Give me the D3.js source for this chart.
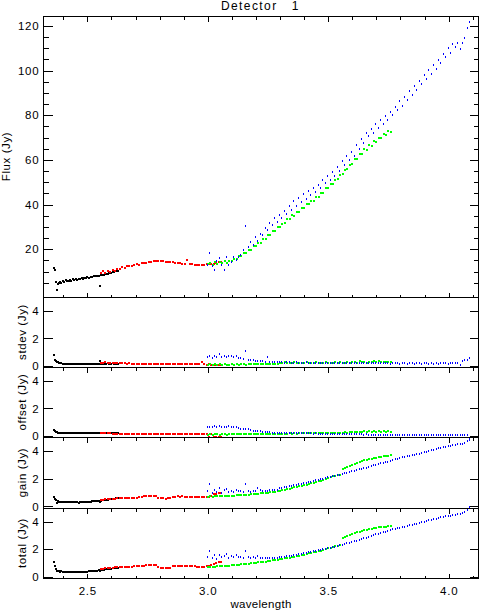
<!DOCTYPE html>
<html><head><meta charset="utf-8">
<script src="https://cdn.jsdelivr.net/npm/d3@7"></script>
<style>
body{margin:0;background:#fff;}
svg text{font-family:"Liberation Sans",Arial,sans-serif;fill:#000;}
</style>
</head><body>
<svg id="chart" width="479" height="612"></svg>
<script>
// ---------------- DATA ----------------
const titleText = "Detector   1";
const xLabel = "wavelength";
const xMajorTicks = [2.5, 3.0, 3.5, 4.0];
const xMinorTicks = [2.4, 2.6, 2.7, 2.8, 2.9, 3.1, 3.2, 3.3, 3.4, 3.6, 3.7, 3.8, 3.9, 4.1];
const fluxTicks = [20, 40, 60, 80, 100, 120];
const fluxMinorTicks = [5, 10, 15, 25, 30, 35, 45, 50, 55, 65, 70, 75, 85, 90, 95, 105, 110, 115];
const smallTicks = [0, 2, 4];
const panelLabels = ["Flux (Jy)", "stdev (Jy)", "offset (Jy)", "gain (Jy)", "total (Jy)"];

// black segment
const blackWl = [2.362,2.364,2.368,2.372,2.377,2.382,2.387,2.392,2.398,2.404,
  2.410,2.416,2.422,2.428,2.434,2.440,2.446,2.452,2.458,2.464,
  2.470,2.476,2.482,2.488,2.494,2.500,2.507,2.514,2.521,2.528,
  2.535,2.542,2.549,2.553,2.558,2.564,2.570,2.577,2.584,2.591,
  2.598,2.605,2.612,2.619,2.626];
const blackFlux = [11.8,10.8,5.3,1.8,4.6,4.9,5.4,5.1,5.6,5.5,
  6.1,5.7,6.0,6.3,5.9,6.5,6.2,6.6,6.4,6.9,
  6.7,7.0,6.9,7.2,7.1,7.4,7.3,7.6,7.8,8.0,
  8.0,8.1,8.1,3.6,8.3,8.5,8.6,9.0,9.1,9.3,
  9.5,9.7,9.9,10.1,10.3];
const blackStdev = [0.80,0.40,0.33,0.28,0.25,0.22,0.20,0.18,0.17,0.16,
  0.15,0.15,0.14,0.16,0.14,0.15,0.13,0.14,0.16,0.14,
  0.13,0.14,0.13,0.14,0.15,0.13,0.14,0.16,0.14,0.15,
  0.14,0.16,0.15,0.37,0.16,0.15,0.17,0.16,0.18,0.17,
  0.16,0.18,0.17,0.16,0.17];
const blackOffset = [0.45,0.38,0.30,0.26,0.24,0.22,0.21,0.20,0.20,0.19,
  0.20,0.19,0.20,0.19,0.19,0.20,0.19,0.20,0.19,0.19,
  0.20,0.19,0.19,0.20,0.19,0.20,0.19,0.19,0.20,0.19,
  0.20,0.19,0.19,0.22,0.19,0.20,0.19,0.20,0.19,0.20,
  0.19,0.19,0.20,0.19,0.19];
const blackGain = [0.70,0.55,0.45,0.25,0.35,0.32,0.30,0.33,0.30,0.31,
  0.29,0.32,0.30,0.31,0.29,0.30,0.28,0.30,0.29,0.27,
  0.29,0.28,0.30,0.29,0.31,0.30,0.33,0.32,0.35,0.37,
  0.36,0.38,0.40,0.30,0.42,0.44,0.45,0.47,0.49,0.50,
  0.52,0.55,0.56,0.58,0.60];
const blackTotal = [1.10,0.75,0.55,0.44,0.40,0.38,0.36,0.38,0.35,0.37,
  0.34,0.36,0.35,0.37,0.34,0.35,0.33,0.35,0.34,0.33,
  0.35,0.34,0.36,0.35,0.37,0.36,0.38,0.39,0.41,0.43,
  0.42,0.44,0.46,0.40,0.48,0.50,0.51,0.53,0.55,0.56,
  0.58,0.61,0.62,0.64,0.66];

// red segment
const redWl = [2.555,2.565,2.575,2.585,2.595,2.605,2.615,2.625,2.635,2.645,
  2.655,2.665,2.675,2.685,2.695,2.705,2.715,2.725,2.735,2.745,
  2.755,2.765,2.775,2.785,2.795,2.805,2.815,2.825,2.835,2.845,
  2.855,2.865,2.875,2.885,2.895,2.905,2.915,2.925,2.935,2.945,
  2.955,2.965,2.975,2.985,2.995,3.005,3.015,3.025,3.035,3.045,3.055];
const redFlux = [9.2,10.1,9.6,10.4,10.0,10.7,10.5,11.4,11.1,12.0,
  11.8,12.4,12.7,12.6,13.0,13.3,13.2,13.7,13.8,14.0,
  14.3,14.2,14.6,14.8,14.9,14.7,14.8,14.5,14.4,14.3,
  14.2,13.9,13.8,13.7,13.6,13.5,15.2,13.5,13.3,13.2,
  13.0,13.1,13.0,13.2,13.3,13.4,13.6,13.5,14.0,14.2,14.4];
const redStdev = [0.24,0.22,0.25,0.21,0.23,0.22,0.20,0.22,0.21,0.19,
  0.18,0.17,0.18,0.16,0.17,0.16,0.15,0.16,0.15,0.14,
  0.15,0.14,0.15,0.14,0.13,0.14,0.13,0.14,0.13,0.12,
  0.13,0.12,0.13,0.12,0.12,0.11,0.12,0.11,0.12,0.11,
  0.12,0.11,0.30,0.11,0.10,0.11,0.06,0.05,0.06,0.05,0.06];
const redOffset = [0.20,0.19,0.21,0.18,0.20,0.17,0.16,0.17,0.15,0.14,
  0.15,0.14,0.13,0.14,0.13,0.14,0.13,0.13,0.14,0.13,
  0.13,0.12,0.13,0.12,0.13,0.12,0.12,0.13,0.12,0.12,
  0.12,0.13,0.12,0.12,0.12,0.11,0.12,0.12,0.11,0.12,
  0.11,0.12,0.11,0.12,0.11,-0.08,0.11,-0.09,-0.08,-0.09,-0.08];
const redGain = [0.46,0.48,0.50,0.50,0.53,0.55,0.56,0.58,0.58,0.59,
  0.60,0.60,0.61,0.62,0.63,0.63,0.66,0.70,0.71,0.72,
  0.73,0.74,0.75,0.75,0.60,0.58,0.57,0.56,0.57,0.58,
  0.69,0.70,0.71,0.70,0.71,0.70,0.69,0.70,0.69,0.68,
  0.66,0.65,0.66,0.65,0.67,0.70,0.75,0.87,0.90,0.95,0.97];
const redTotal = [0.56,0.58,0.60,0.61,0.64,0.66,0.67,0.69,0.69,0.70,
  0.71,0.72,0.73,0.73,0.74,0.75,0.77,0.80,0.81,0.82,
  0.83,0.84,0.85,0.85,0.68,0.66,0.65,0.64,0.65,0.66,
  0.77,0.78,0.78,0.77,0.78,0.77,0.76,0.77,0.76,0.75,
  0.73,0.72,0.73,0.72,0.74,0.76,0.82,0.95,0.98,1.04,1.06];

// green segment
const greenWl = [3.00,3.01,3.02,3.03,3.04,3.05,3.06,3.07,3.08,3.09,
  3.10,3.11,3.12,3.13,3.14,3.15,3.16,3.17,3.18,3.19,
  3.20,3.21,3.22,3.23,3.24,3.25,3.26,3.27,3.28,3.29,
  3.30,3.31,3.32,3.33,3.34,3.35,3.36,3.37,3.38,3.39,
  3.40,3.41,3.42,3.43,3.44,3.45,3.46,3.47,3.48,3.49,
  3.50,3.51,3.52,3.53,3.54,3.55,3.56,3.57,3.58,3.59,
  3.60,3.61,3.62,3.63,3.64,3.65,3.66,3.67,3.68,3.69,
  3.70,3.71,3.72,3.73,3.74,3.75,3.76];
const greenFlux = [13.3,13.9,13.2,14.1,13.5,14.4,13.8,14.7,14.0,14.9,
  14.6,15.7,15.5,16.9,16.8,18.4,18.4,19.9,19.9,21.4,
  21.5,23.0,23.0,24.6,24.6,26.2,26.3,28.0,28.1,29.9,
  29.9,31.5,31.6,33.4,33.4,35.2,35.1,36.9,36.8,38.5,
  38.6,40.3,40.2,41.8,41.7,43.5,43.4,45.2,45.4,47.3,
  47.3,49.1,49.2,51.1,51.3,53.3,53.6,55.6,55.8,57.9,
  58.0,60.2,60.3,62.5,62.6,64.7,64.6,66.6,66.4,68.3,
  68.1,70.0,69.7,71.5,71.1,72.8,72.6];
const greenStdev = [0.10,0.12,0.09,0.11,0.10,0.12,0.10,0.11,0.09,0.10,
  0.11,0.10,0.12,0.10,0.11,0.12,0.10,0.11,0.12,0.11,
  0.12,0.11,0.13,0.12,0.14,0.13,0.12,0.14,0.13,0.15,
  0.22,0.18,0.25,0.20,0.23,0.19,0.26,0.21,0.24,0.20,
  0.22,0.25,0.19,0.23,0.21,0.26,0.20,0.24,0.22,0.25,
  0.21,0.24,0.20,0.26,0.22,0.25,0.21,0.24,0.28,0.22,
  0.25,0.30,0.22,0.32,0.26,0.30,0.24,0.31,0.27,0.33,
  0.26,0.32,0.28,0.30,0.25,0.31,0.27];
const greenOffset = [0.10,0.11,0.10,0.12,0.11,0.10,0.11,0.12,0.10,0.11,
  0.12,0.11,0.12,0.13,0.12,0.13,0.12,0.13,0.14,0.13,
  0.14,0.13,0.15,0.14,0.15,0.14,0.16,0.15,0.16,0.15,
  0.16,0.17,0.16,0.17,0.18,0.17,0.18,0.17,0.18,0.19,
  0.18,0.19,0.18,0.20,0.19,0.20,0.19,0.20,0.21,0.20,
  0.21,0.20,0.22,0.21,0.22,0.24,0.23,0.25,0.24,0.26,
  0.28,0.30,0.27,0.31,0.29,0.32,0.30,0.33,0.31,0.32,
  0.30,0.33,0.31,0.32,0.30,0.33,0.31];
const greenGain = [0.70,0.71,0.70,0.72,0.73,0.72,0.74,0.75,0.74,0.76,
  0.77,0.78,0.79,0.80,0.82,0.81,0.83,0.85,0.86,0.88,
  0.90,0.92,0.93,0.95,0.97,0.99,1.02,1.04,1.06,1.09,
  1.12,1.16,1.20,1.24,1.28,1.32,1.36,1.40,1.44,1.48,
  1.52,1.56,1.61,1.65,1.70,1.75,1.80,1.86,1.92,1.98,
  2.04,2.10,2.16,2.21,2.25,2.29,2.72,2.80,2.86,2.93,
  3.00,3.08,3.14,3.20,3.26,3.31,3.36,3.40,3.44,3.48,
  3.51,3.55,3.58,3.61,3.63,3.66,3.68];
const greenTotal = [0.68,0.70,0.71,0.72,0.74,0.75,0.76,0.78,0.79,0.81,
  0.83,0.84,0.86,0.87,0.89,0.91,0.93,0.95,0.97,0.99,
  1.01,1.03,1.05,1.08,1.10,1.12,1.15,1.18,1.21,1.24,
  1.27,1.30,1.33,1.36,1.39,1.42,1.45,1.49,1.53,1.57,
  1.61,1.65,1.69,1.73,1.77,1.81,1.85,1.90,1.95,2.00,
  2.05,2.10,2.15,2.20,2.24,2.28,2.84,2.92,2.98,3.05,
  3.12,3.18,3.23,3.28,3.33,3.38,3.42,3.46,3.50,3.53,
  3.56,3.59,3.61,3.63,3.65,3.67,3.69];

// blue segment
const blueWl = [3.00,3.01,3.02,3.03,3.04,3.05,3.06,3.07,3.08,3.09,
  3.10,3.11,3.12,3.13,3.14,3.15,3.16,3.17,3.18,3.19,
  3.20,3.21,3.22,3.23,3.24,3.25,3.26,3.27,3.28,3.29,
  3.30,3.31,3.32,3.33,3.34,3.35,3.36,3.37,3.38,3.39,
  3.40,3.41,3.42,3.43,3.44,3.45,3.46,3.47,3.48,3.49,
  3.50,3.51,3.52,3.53,3.54,3.55,3.56,3.57,3.58,3.59,
  3.60,3.61,3.62,3.63,3.64,3.65,3.66,3.67,3.68,3.69,
  3.70,3.71,3.72,3.73,3.74,3.75,3.76,3.77,3.78,3.79,
  3.80,3.81,3.82,3.83,3.84,3.85,3.86,3.87,3.88,3.89,
  3.90,3.91,3.92,3.93,3.94,3.95,3.96,3.97,3.98,3.99,
  4.00,4.01,4.02,4.03,4.04,4.05,4.06,4.07,4.08,4.09];
const blueFlux = [13.2,18.2,12.5,10.7,14.6,16.0,13.1,10.7,16.7,13.0,
  14.2,16.5,15.0,16.7,17.5,19.8,30.4,21.0,23.2,21.8,
  25.6,23.6,26.9,26.4,29.5,28.6,31.6,30.9,33.9,32.4,
  35.3,33.9,37.3,35.9,39.4,37.8,41.5,39.6,42.9,41.3,
  44.6,42.5,46.1,44.2,47.5,45.6,48.9,47.4,51.0,49.6,
  52.9,50.8,54.4,52.9,56.7,55.0,59.3,57.6,61.9,60.0,
  63.6,61.9,66.8,65.0,69.3,67.5,72.0,70.6,73.9,72.0,
  75.9,74.2,77.8,76.0,79.8,78.0,81.5,80.0,83.9,82.5,
  86.3,84.3,88.3,86.7,90.8,89.1,93.0,91.4,95.4,94.0,
  97.8,96.0,100.1,98.4,102.4,100.8,104.9,103.3,107.6,106.0,
  110.3,108.0,111.9,110.6,112.4,109.8,112.3,114.5,119.0,121.5];
const blueStdev = [0.65,0.72,0.60,0.70,0.68,0.85,0.66,0.72,0.62,0.70,
  0.73,0.68,0.75,0.56,0.60,0.50,1.07,0.45,0.42,0.44,
  0.38,0.36,0.34,0.32,0.30,0.64,0.28,0.27,0.28,0.26,
  0.25,0.26,0.24,0.25,0.27,0.24,0.23,0.25,0.24,0.23,
  0.24,0.25,0.23,0.22,0.24,0.23,0.22,0.21,0.23,0.22,
  0.21,0.22,0.24,0.21,0.20,0.22,0.21,0.23,0.20,0.21,
  0.22,0.20,0.21,0.19,0.22,0.20,0.21,0.19,0.20,0.21,
  0.19,0.20,0.18,0.21,0.19,0.20,0.17,0.19,0.18,0.20,
  0.17,0.19,0.18,0.17,0.20,0.18,0.17,0.19,0.18,0.17,
  0.19,0.18,0.17,0.18,0.16,0.19,0.17,0.18,0.20,0.18,
  0.17,0.19,0.20,0.18,0.21,0.07,0.33,0.40,0.42,0.56];
const blueOffset = [0.62,0.68,0.64,0.70,0.66,0.69,0.63,0.68,0.65,0.70,
  0.66,0.68,0.64,0.58,0.52,0.50,0.52,0.48,0.42,0.38,
  0.36,0.34,0.32,0.30,0.28,0.26,0.25,0.24,0.23,0.22,
  0.21,0.22,0.21,0.20,0.21,0.20,0.19,0.20,0.19,0.18,
  0.19,0.18,0.19,0.18,0.17,0.18,0.17,0.16,0.17,0.16,
  0.15,0.16,0.15,0.14,0.15,0.14,0.13,0.14,0.13,0.12,
  0.13,0.12,0.11,0.12,0.11,0.10,0.11,0.10,0.10,0.09,
  0.10,0.09,0.10,0.09,0.09,0.10,0.09,0.09,0.08,0.09,
  0.09,0.08,0.09,0.08,0.09,0.08,0.08,0.09,0.08,0.08,
  0.08,0.09,0.08,0.08,0.09,0.08,0.08,0.09,0.08,0.08,
  0.08,0.09,0.08,0.08,0.08,0.07,0.08,0.06,0.03,-0.12];
const blueGain = [1.10,1.60,0.95,1.20,1.05,1.30,0.98,1.15,1.25,1.02,
  1.12,1.05,1.18,1.08,1.12,1.00,1.62,1.10,1.05,1.08,
  1.12,1.30,1.15,1.10,1.12,1.14,1.15,1.17,1.18,1.20,
  1.30,1.33,1.37,1.40,1.44,1.47,1.51,1.55,1.59,1.63,
  1.67,1.71,1.75,1.79,1.83,1.87,1.91,1.95,1.99,2.03,
  2.08,2.12,2.16,2.20,2.24,2.28,2.33,2.38,2.42,2.47,
  2.52,2.57,2.62,2.66,2.71,2.75,2.80,2.85,2.90,2.95,
  3.01,3.05,3.10,3.14,3.18,3.23,3.28,3.34,3.39,3.44,
  3.49,3.53,3.58,3.62,3.66,3.70,3.73,3.77,3.81,3.85,
  3.89,3.94,3.99,4.04,4.09,4.14,4.19,4.24,4.28,4.31,
  4.34,4.37,4.40,4.44,4.47,4.50,4.52,4.58,4.70,4.80];
const blueTotal = [1.45,1.85,1.35,1.55,1.30,1.60,1.40,1.50,1.62,1.38,
  1.50,1.42,1.58,1.45,1.40,1.35,1.85,1.42,1.38,1.40,
  1.36,1.52,1.38,1.34,1.35,1.33,1.36,1.35,1.37,1.38,
  1.40,1.42,1.45,1.47,1.50,1.53,1.56,1.59,1.62,1.66,
  1.70,1.73,1.77,1.80,1.84,1.88,1.92,1.96,2.00,2.04,
  2.07,2.11,2.15,2.19,2.23,2.28,2.33,2.38,2.43,2.48,
  2.53,2.58,2.63,2.68,2.73,2.78,2.84,2.90,2.96,3.02,
  3.07,3.12,3.17,3.22,3.27,3.33,3.38,3.44,3.49,3.53,
  3.57,3.61,3.65,3.69,3.73,3.78,3.82,3.86,3.90,3.95,
  4.00,4.04,4.09,4.13,4.18,4.22,4.27,4.31,4.35,4.39,
  4.42,4.45,4.48,4.51,4.54,4.56,4.60,4.68,4.85,5.10];

// ---------------- LAYOUT ----------------
const svg = d3.select("#chart");
const plotLeft = 43.5, plotRight = 478.5;
const x = d3.scaleLinear().domain([2.318, 4.124]).range([plotLeft, plotRight]);

const series = [
  {color: "#000000", w: 2, h: 2, wl: blackWl, flux: blackFlux, stdev: blackStdev, offset: blackOffset, gain: blackGain, total: blackTotal},
  {color: "#ff0000", w: 2, h: 2, wl: redWl, flux: redFlux, stdev: redStdev, offset: redOffset, gain: redGain, total: redTotal},
  {color: "#00ff00", w: 2, h: 2, wl: greenWl, flux: greenFlux, stdev: greenStdev, offset: greenOffset, gain: greenGain, total: greenTotal},
  {color: "#0000ff", w: 1, h: 2, wl: blueWl, flux: blueFlux, stdev: blueStdev, offset: blueOffset, gain: blueGain, total: blueTotal}
];

const panels = [
  {key: "flux",   top: 16,  bottom: 297, domain: [-1.34, 124.4], major: fluxTicks,  minor: fluxMinorTicks, label: panelLabels[0], labelX: 10,   topDir: "down", botDir: "up"},
  {key: "stdev",  top: 297, bottom: 367, domain: [-0.08, 5.0],   major: smallTicks, minor: [],             label: panelLabels[1], labelX: 25.5, topDir: "up",   botDir: "down"},
  {key: "offset", top: 367, bottom: 437, domain: [-0.08, 5.0],   major: smallTicks, minor: [],             label: panelLabels[2], labelX: 25.5, topDir: "down", botDir: "down"},
  {key: "gain",   top: 437, bottom: 508, domain: [-0.12, 5.0],   major: smallTicks, minor: [],             label: panelLabels[3], labelX: 25.5, topDir: "down", botDir: "down"},
  {key: "total",  top: 508, bottom: 578, domain: [-0.1, 5.0],    major: smallTicks, minor: [],             label: panelLabels[4], labelX: 25.5, topDir: "down", botDir: "up"}
];

const FONT = 11.5;

function styleAxis(g) {
  g.select(".domain").remove();
  g.selectAll(".tick line").attr("stroke", "#000").attr("shape-rendering", "crispEdges");
  g.selectAll(".tick text").attr("font-size", FONT).attr("letter-spacing", "0.8px")
    .attr("font-family", '"Liberation Sans",Arial,sans-serif').attr("fill", "#000");
}

panels.forEach((p, pi) => {
  const y = d3.scaleLinear().domain(p.domain).range([p.bottom, p.top]);
  const g = svg.append("g");

  // frame
  g.append("rect").attr("x", plotLeft).attr("y", p.top + 0.5)
    .attr("width", plotRight - plotLeft).attr("height", p.bottom - p.top)
    .attr("fill", "none").attr("stroke", "#000").attr("stroke-width", 1)
    .attr("shape-rendering", "crispEdges");

  // y axes
  const fmt = d3.format("d");
  g.append("g").attr("transform", `translate(${plotLeft},0)`)
    .call(d3.axisLeft(y).tickValues(p.major).tickSizeInner(-9).tickSizeOuter(0).tickPadding(4).tickFormat(fmt))
    .call(styleAxis);
  g.append("g").attr("transform", `translate(${plotRight},0)`)
    .call(d3.axisRight(y).tickValues(p.major).tickSizeInner(-9).tickSizeOuter(0).tickFormat(() => ""))
    .call(styleAxis);
  if (p.minor.length) {
    g.append("g").attr("transform", `translate(${plotLeft},0)`)
      .call(d3.axisLeft(y).tickValues(p.minor).tickSizeInner(-5).tickSizeOuter(0).tickFormat(() => ""))
      .call(styleAxis);
    g.append("g").attr("transform", `translate(${plotRight},0)`)
      .call(d3.axisRight(y).tickValues(p.minor).tickSizeInner(-5).tickSizeOuter(0).tickFormat(() => ""))
      .call(styleAxis);
  }

  // x axes (top & bottom of each panel)
  const topSign = p.topDir === "down" ? -1 : 1;
  g.append("g").attr("transform", `translate(0,${p.top + 0.5})`)
    .call(d3.axisTop(x).tickValues(xMajorTicks).tickSizeInner(topSign * 5).tickSizeOuter(0).tickFormat(() => ""))
    .call(styleAxis);
  g.append("g").attr("transform", `translate(0,${p.top + 0.5})`)
    .call(d3.axisTop(x).tickValues(xMinorTicks).tickSizeInner(topSign * 3).tickSizeOuter(0).tickFormat(() => ""))
    .call(styleAxis);
  const botSign = p.botDir === "down" ? 1 : -1;
  const isLast = pi === panels.length - 1;
  g.append("g").attr("transform", `translate(0,${p.bottom + 0.5})`)
    .call(d3.axisBottom(x).tickValues(xMajorTicks).tickSizeInner(botSign * 5).tickSizeOuter(0)
      .tickPadding(8.5).tickFormat(isLast ? d3.format(".1f") : () => ""))
    .call(styleAxis);
  g.append("g").attr("transform", `translate(0,${p.bottom + 0.5})`)
    .call(d3.axisBottom(x).tickValues(xMinorTicks).tickSizeInner(botSign * 3).tickSizeOuter(0).tickFormat(() => ""))
    .call(styleAxis);

  // y label
  const cy = (p.top + p.bottom) / 2;
  g.append("text").attr("transform", `translate(${p.labelX},${cy}) rotate(-90)`)
    .attr("text-anchor", "middle").attr("font-size", FONT).attr("letter-spacing", "0.6px")
    .text(p.label);

  // data points
  series.forEach(s => {
    const vals = s[p.key];
    g.append("g").attr("fill", s.color)
      .selectAll("rect").data(s.wl.map((w, i) => [w, vals[i]]))
      .join("rect")
      .attr("x", d => Math.round(x(d[0])) - 1)
      .attr("y", d => Math.round(y(d[1])) - 1)
      .attr("width", s.w).attr("height", s.h)
      .attr("shape-rendering", "crispEdges");
  });
});

// title and x label
svg.append("text").attr("x", 260.4).attr("y", 9.5).attr("text-anchor", "middle")
  .attr("font-size", 12).attr("letter-spacing", "1.4px")
  .style("white-space", "pre").text(titleText);
svg.append("text").attr("x", 261).attr("y", 607.5).attr("text-anchor", "middle")
  .attr("font-size", FONT).attr("letter-spacing", "0.3px").text(xLabel);
</script>
</body></html>
